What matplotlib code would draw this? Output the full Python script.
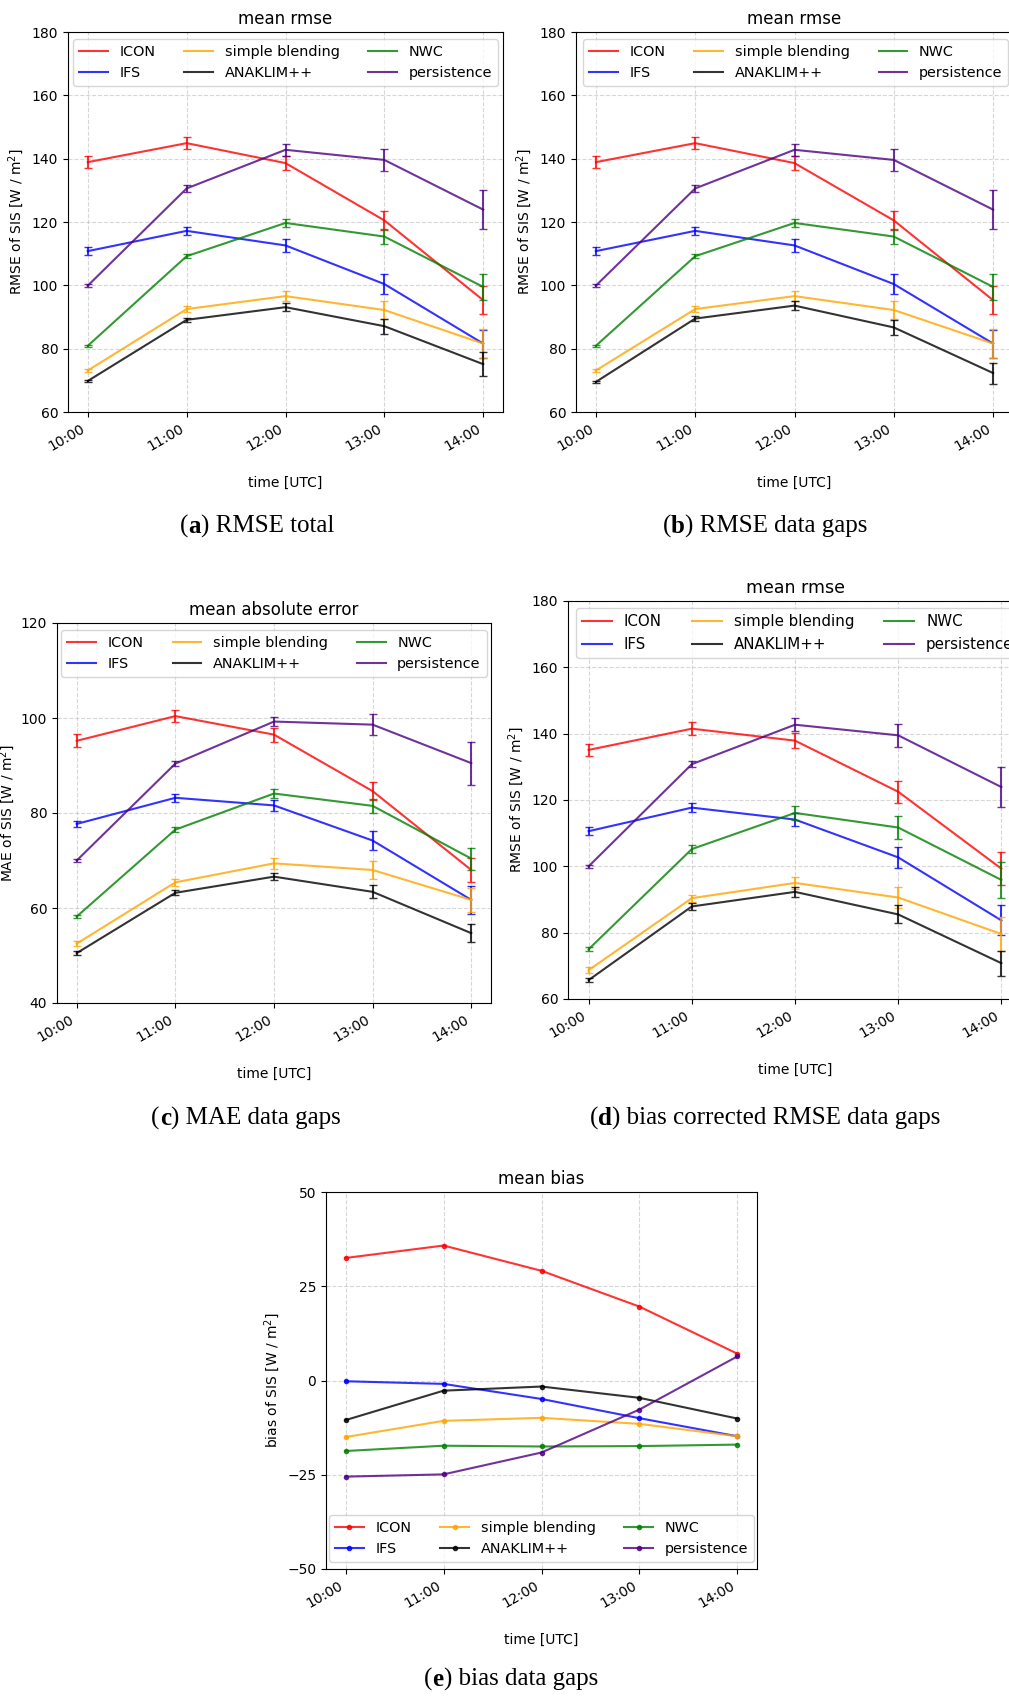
import matplotlib
matplotlib.use("Agg")
import matplotlib.pyplot as plt
import numpy as np

# ---------------- data ----------------
hours = ['10:00', '11:00', '12:00', '13:00', '14:00']
models = ['ICON', 'IFS', 'simple blending', 'ANAKLIM++', 'NWC', 'persistence']
colors = ['red', 'blue', 'orange', 'black', 'green', 'indigo']

# (a) RMSE total
a_val = {
    'ICON':            [138.9, 144.9, 138.6, 120.5, 95.3],
    'IFS':             [110.8, 117.2, 112.6, 100.4, 81.6],
    'simple blending': [73.1, 92.5, 96.6, 92.2, 81.6],
    'ANAKLIM++':       [69.8, 89.1, 93.1, 87.1, 75.1],
    'NWC':             [80.9, 109.2, 119.7, 115.4, 99.5],
    'persistence':     [99.9, 130.6, 142.8, 139.6, 123.9],
}
a_err = {
    'ICON':            [1.9, 1.85, 2.2, 3.1, 4.5],
    'IFS':             [1.3, 1.3, 2.0, 3.2, 4.4],
    'simple blending': [0.6, 0.85, 1.5, 2.85, 4.6],
    'ANAKLIM++':       [0.4, 0.6, 1.2, 2.4, 3.7],
    'NWC':             [0.4, 0.6, 1.3, 2.5, 4.2],
    'persistence':     [0.4, 1.2, 1.9, 3.4, 6.1],
}

# (b) RMSE data gaps
b_val = {
    'ICON':            [138.9, 144.9, 138.6, 120.5, 95.3],
    'IFS':             [110.8, 117.2, 112.6, 100.4, 81.6],
    'simple blending': [73.1, 92.5, 96.6, 92.2, 81.6],
    'ANAKLIM++':       [69.5, 89.5, 93.6, 86.7, 72.3],
    'NWC':             [80.9, 109.2, 119.7, 115.4, 99.5],
    'persistence':     [99.9, 130.6, 142.8, 139.6, 123.9],
}
b_err = {
    'ICON':            [1.9, 1.85, 2.2, 3.1, 4.5],
    'IFS':             [1.3, 1.3, 2.0, 3.2, 4.4],
    'simple blending': [0.6, 0.85, 1.5, 2.85, 4.6],
    'ANAKLIM++':       [0.4, 0.7, 1.4, 2.5, 3.3],
    'NWC':             [0.4, 0.6, 1.3, 2.5, 4.2],
    'persistence':     [0.4, 1.2, 1.9, 3.4, 6.1],
}

# (c) MAE data gaps
c_val = {
    'ICON':            [95.2, 100.4, 96.5, 84.6, 68.0],
    'IFS':             [77.7, 83.2, 81.6, 74.2, 61.7],
    'simple blending': [52.5, 65.4, 69.4, 68.0, 61.7],
    'ANAKLIM++':       [50.5, 63.2, 66.6, 63.4, 54.7],
    'NWC':             [58.2, 76.5, 84.1, 81.5, 70.4],
    'persistence':     [70.0, 90.4, 99.25, 98.6, 90.5],
}
c_err = {
    'ICON':            [1.35, 1.3, 1.45, 1.9, 2.55],
    'IFS':             [0.65, 0.8, 1.2, 1.95, 2.9],
    'simple blending': [0.6, 0.75, 1.1, 1.8, 2.5],
    'ANAKLIM++':       [0.4, 0.5, 0.8, 1.35, 1.95],
    'NWC':             [0.4, 0.5, 0.9, 1.4, 2.3],
    'persistence':     [0.35, 0.5, 1.0, 2.2, 4.5],
}

# (d) bias corrected RMSE data gaps
d_val = {
    'ICON':            [135.1, 141.5, 137.9, 122.5, 99.3],
    'IFS':             [110.6, 117.7, 114.1, 102.7, 83.7],
    'simple blending': [68.7, 90.4, 95.0, 90.6, 79.6],
    'ANAKLIM++':       [65.7, 87.9, 92.3, 85.5, 70.8],
    'NWC':             [75.0, 105.2, 116.1, 111.7, 95.9],
    'persistence':     [100.0, 130.8, 142.7, 139.5, 123.9],
}
d_err = {
    'ICON':            [1.7, 1.9, 2.3, 3.3, 4.9],
    'IFS':             [1.3, 1.3, 1.9, 3.1, 4.5],
    'simple blending': [0.8, 1.1, 1.9, 3.2, 5.0],
    'ANAKLIM++':       [0.5, 1.0, 1.4, 2.7, 3.8],
    'NWC':             [0.55, 1.1, 2.1, 3.5, 5.4],
    'persistence':     [0.4, 1.0, 2.0, 3.4, 6.1],
}

# (e) bias data gaps
e_val = {
    'ICON':            [32.5, 35.8, 29.1, 19.6, 7.1],
    'IFS':             [-0.2, -0.9, -4.9, -10.0, -14.8],
    'simple blending': [-15.0, -10.7, -9.9, -11.5, -14.8],
    'ANAKLIM++':       [-10.5, -2.7, -1.6, -4.6, -10.1],
    'NWC':             [-18.7, -17.3, -17.5, -17.4, -17.0],
    'persistence':     [-25.5, -24.9, -19.1, -7.7, 6.4],
}

captions = [('a', 'RMSE total'), ('b', 'RMSE data gaps'), ('c', 'MAE data gaps'),
            ('d', 'bias corrected RMSE data gaps'), ('e', 'bias data gaps')]

# ---------------- figure ----------------
W, H = 1009, 1697
fig = plt.figure(figsize=(W / 100, H / 100), dpi=100)


def add_ax(l, t, r, b):
    return fig.add_axes([l / W, 1 - b / H, (r - l) / W, (b - t) / H])


x = np.arange(len(hours))


def style(ax, title, ylabel, ylim, yticks, tfs=12, ylpad=4):
    ax.set_title(title, fontsize=tfs)
    ax.set_ylabel(ylabel, fontsize=10, labelpad=ylpad)
    ax.set_xlabel('time [UTC]', fontsize=10, labelpad=16)
    ax.set_ylim(*ylim)
    ax.set_yticks(yticks)
    ax.set_xticks(x)
    ax.set_xticklabels(hours)
    plt.setp(ax.get_xticklabels(), rotation=30, ha='right')
    ax.grid(True, linestyle='--', alpha=0.5)
    ax.set_axisbelow(True)


def err_panel(ax, vals, errs, title, ylabel, ylim, yticks, loc, lfs=10.4, tfs=12, ylpad=4):
    for m, c in zip(models, colors):
        ax.plot(x, vals[m], color=c, alpha=0.8, lw=1.5, label=m)
        ax.errorbar(x, vals[m], yerr=errs[m], fmt='none', ecolor=c, alpha=0.8,
                    capsize=3, elinewidth=1.5)
    style(ax, title, ylabel, ylim, yticks, tfs=tfs, ylpad=ylpad)
    ax.legend(loc=loc, ncol=3, fontsize=lfs)


ylab_rmse = 'RMSE of SIS [W / m$^2$]'
axa = add_ax(68, 32, 503, 412)
err_panel(axa, a_val, a_err, 'mean rmse', ylab_rmse, (60, 180), np.arange(60, 181, 20), 'upper center')
axb = add_ax(576, 32, 1013, 412)
err_panel(axb, b_val, b_err, 'mean rmse', ylab_rmse, (60, 180), np.arange(60, 181, 20), 'upper left')
axc = add_ax(57, 623, 491, 1003)
err_panel(axc, c_val, c_err, 'mean absolute error', 'MAE of SIS [W / m$^2$]', (40, 120),
          np.arange(40, 121, 20), 'upper center', ylpad=2.5)
axd = add_ax(568, 601, 1022, 999)
err_panel(axd, d_val, d_err, 'mean rmse', ylab_rmse, (60, 180), np.arange(60, 181, 20), 'upper left',
          lfs=10.8, tfs=12.5)

axe = add_ax(326, 1192, 757, 1569)
for m, c in zip(models, colors):
    axe.plot(x, e_val[m], color=c, alpha=0.8, lw=1.5, marker='.', markersize=6, label=m)
style(axe, 'mean bias', 'bias of SIS [W / m$^2$]', (-50, 50), [-50, -25, 0, 25, 50])
axe.legend(loc='lower center', ncol=3, fontsize=10.4)

# ---------------- captions ----------------
cap_pos = [(257, 533), (765, 533), (246, 1125), (765, 1125), (511, 1686)]
renderer = fig.canvas.get_renderer()
serif = 'Liberation Serif'
fs = 18
for (letter, rest), (xc, yb) in zip(captions, cap_pos):
    parts = [('(', 'normal'), (letter, 'bold'), (') ' + rest, 'normal')]
    texts = []
    widths = []
    for s, wgt in parts:
        t = fig.text(0, 1 - yb / H, s, fontsize=fs, family=serif, weight=wgt,
                     va='baseline', ha='left')
        texts.append(t)
        widths.append(t.get_window_extent(renderer).width)
    total = sum(widths)
    xs = xc - total / 2
    for t, w in zip(texts, widths):
        t.set_x(xs / W)
        xs += w

fig.savefig('out.png', dpi=100)
